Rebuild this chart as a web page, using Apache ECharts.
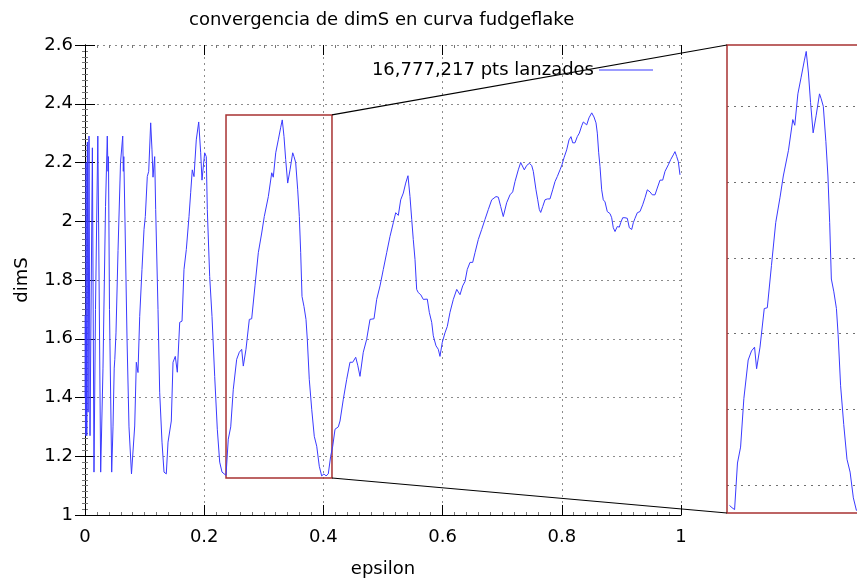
<!DOCTYPE html>
<html>
<head>
<meta charset="utf-8">
<script src="https://cdn.jsdelivr.net/npm/echarts@6/dist/echarts.min.js"></script>
<style>html,body{margin:0;padding:0;background:#fff}#c{width:857px;height:583px}</style>
</head>
<body>
<div id="c"></div>
<script>
// ---- data ----
const epsilon = [
0.0002,0.0005,0.0008,0.0011,0.0014,0.0018,0.0022,0.0026,0.0030,0.0040,0.0052,0.0067,0.0084,0.0124,0.0151,0.0176,0.0215,0.0228,0.0263,0.0302,
0.0344,0.0374,0.0386,0.0394,0.0411,0.0448,0.0470,0.0490,0.0500,0.0520,0.0554,0.0596,0.0633,0.0643,0.0651,0.0671,0.0705,0.0738,0.0780,0.0834,
0.0861,0.0889,0.0918,0.0956,0.0990,0.1012,0.1045,0.1069,0.1102,0.1124,0.1141,0.1169,0.1186,0.1225,0.1253,0.1292,0.1326,0.1364,0.1393,0.1448,
0.1477,0.1515,0.1549,0.1589,0.1628,0.1661,0.1700,0.1745,0.1773,0.1800,0.1829,0.1867,0.1908,0.1941,0.1963,0.2008,0.2035,0.2052,0.2092,0.2131,
0.2176,0.2220,0.2260,0.2299,0.2332,0.2366,0.2404,0.2445,0.2488,0.2545,0.2589,0.2629,0.2656,0.2701,0.2757,0.2797,0.2852,0.2908,0.2965,0.3008,
0.3032,0.3076,0.3133,0.3159,0.3200,0.3243,0.3284,0.3310,0.3339,0.3367,0.3401,0.3440,0.3485,0.3507,0.3535,0.3569,0.3596,0.3619,0.3641,0.3674,
0.3708,0.3730,0.3763,0.3804,0.3847,0.3888,0.3931,0.3971,0.4010,0.4044,0.4082,0.4122,0.4156,0.4195,0.4250,0.4279,0.4334,0.4391,0.4446,0.4492,
0.4542,0.4576,0.4614,0.4669,0.4726,0.4782,0.4849,0.4894,0.4950,0.5005,0.5062,0.5117,0.5173,0.5213,0.5257,0.5297,0.5341,0.5381,0.5419,0.5453,
0.5482,0.5508,0.5537,0.5565,0.5592,0.5633,0.5676,0.5705,0.5743,0.5777,0.5817,0.5844,0.5889,0.5928,0.5956,0.5995,0.6040,0.6079,0.6124,0.6180,
0.6237,0.6292,0.6337,0.6376,0.6414,0.6460,0.6505,0.6544,0.6599,0.6656,0.6711,0.6767,0.6824,0.6851,0.6896,0.6935,0.6975,0.7018,0.7075,0.7131,
0.7176,0.7215,0.7270,0.7310,0.7337,0.7371,0.7411,0.7455,0.7495,0.7522,0.7567,0.7596,0.7623,0.7646,0.7680,0.7718,0.7757,0.7802,0.7847,0.7886,
0.7924,0.7970,0.8003,0.8037,0.8082,0.8121,0.8154,0.8183,0.8221,0.8260,0.8294,0.8334,0.8361,0.8389,0.8418,0.8456,0.8502,0.8540,0.8574,0.8596,
0.8619,0.8641,0.8669,0.8696,0.8725,0.8763,0.8809,0.8837,0.8864,0.8893,0.8931,0.8965,0.8988,0.9022,0.9060,0.9099,0.9133,0.9173,0.9200,0.9228,
0.9267,0.9312,0.9357,0.9396,0.9435,0.9480,0.9518,0.9564,0.9602,0.9648,0.9693,0.9732,0.9787,0.9827,0.9871,0.9899,0.9928,0.9955,0.9983
];
const dimS = [
1.40,1.68,1.30,1.66,1.27,2.20,1.29,1.64,1.27,2.27,1.35,2.29,1.27,2.25,1.146,1.70,2.29,2.00,1.146,1.50,
2.05,2.29,2.17,2.22,1.70,1.146,1.30,1.50,1.53,1.62,1.90,2.20,2.29,2.17,2.22,2.00,1.60,1.30,1.14,1.303,
1.52,1.485,1.676,1.836,1.972,2.016,2.152,2.17,2.335,2.243,2.15,2.22,2.04,1.70,1.418,1.248,1.146,1.14,1.248,1.32,
1.52,1.54,1.486,1.656,1.66,1.836,1.904,2.016,2.097,2.175,2.152,2.277,2.338,2.233,2.14,2.233,2.22,2.04,1.812,1.676,
1.472,1.292,1.18,1.146,1.14,1.135,1.258,1.30,1.428,1.53,1.554,1.564,1.507,1.564,1.666,1.668,1.78,1.893,1.96,2.016,
2.02,2.084,2.165,2.15,2.233,2.277,2.32,2.345,2.288,2.21,2.13,2.175,2.233,2.22,2.20,2.107,2.016,1.893,1.744,1.71,
1.666,1.598,1.462,1.36,1.268,1.234,1.166,1.133,1.14,1.133,1.14,1.20,1.234,1.292,1.30,1.32,1.394,1.462,1.52,1.52,
1.537,1.51,1.472,1.554,1.598,1.666,1.668,1.734,1.78,1.836,1.893,1.948,1.995,2.029,2.02,2.073,2.096,2.13,2.155,2.084,
2.006,1.938,1.87,1.768,1.757,1.75,1.734,1.734,1.735,1.69,1.656,1.61,1.576,1.564,1.54,1.588,1.62,1.642,1.69,1.734,
1.768,1.75,1.78,1.795,1.836,1.86,1.86,1.893,1.938,1.972,2.006,2.04,2.073,2.07,2.084,2.082,2.05,2.016,2.063,2.09,
2.10,2.135,2.175,2.20,2.20,2.175,2.19,2.197,2.19,2.17,2.107,2.073,2.04,2.03,2.05,2.073,2.076,2.076,2.107,2.135,
2.152,2.175,2.192,2.216,2.243,2.277,2.288,2.267,2.267,2.288,2.30,2.325,2.338,2.335,2.328,2.352,2.369,2.355,2.335,2.30,
2.233,2.186,2.107,2.073,2.066,2.033,2.026,2.012,1.978,1.965,1.982,1.98,1.995,2.012,2.012,2.01,1.978,1.972,1.995,2.01,
2.029,2.033,2.056,2.08,2.107,2.10,2.09,2.09,2.113,2.14,2.14,2.17,2.192,2.21,2.226,2.237,2.22,2.203,2.158
];
const xRange = [0, 1], xStep = 0.2;
const yRange = [1, 2.6], yStep = 0.2;
const zoomBoxX = [0.2366, 0.4144];     // red rectangle on the main plot
const zoomBoxY = [1.126, 2.362];
const insetX = [0.2266, 0.3979];        // x range of the magnified view (visible part)
const insetData = [0.2299, 0.4044];     // part of the curve drawn in the inset
const insetGridY = [1.2, 1.4, 1.6, 1.8, 2.0, 2.2];
const insetGridX = [0.395];
const seriesName = '16,777,217 pts lanzados';
const titleText = 'convergencia de dimS en curva fudgeflake';

// ---- chart ----
const FONT = 'DejaVu Sans';
const BLUE = '#3a3aff';
const RED = '#a83232';
const mainPts = epsilon.map((x, i) => [x, dimS[i]]);
const insetPts = mainPts.filter(p => p[0] >= insetData[0] && p[0] <= insetData[1]);

const chart = echarts.init(document.getElementById('c'), null, {renderer: 'canvas'});
const gridLine = {show: true, lineStyle: {color: '#8c8c8c', width: 1, type: [2, 4]}};
const tick = {show: true, inside: true, length: 10, lineStyle: {color: '#000'}};
const minor = {show: true, splitNumber: 10, length: 3, lineStyle: {color: '#777'}};
const lbl = {color: '#000', fontSize: 18, fontFamily: FONT};
const solid = {show: true, lineStyle: {color: '#000', width: 1}};

chart.setOption({
  animation: false,
  backgroundColor: '#fff',
  title: {text: titleText, left: 184, top: 6,
          textStyle: {fontSize: 18, fontWeight: 'normal', fontFamily: FONT, color: '#000'}},
  legend: {data: [seriesName], right: 199, top: 56, align: 'right', icon: 'rect',
           itemWidth: 54, itemHeight: 1, textStyle: {fontSize: 18, fontFamily: FONT, color: '#000'}},
  grid: [
    {left: 85, right: 176, top: 45, bottom: 67, show: false},
    {left: 727, right: 0, top: 45, bottom: 70, show: false}
  ],
  xAxis: [
    {type: 'value', gridIndex: 0, min: xRange[0], max: xRange[1], interval: xStep,
     name: 'epsilon', nameLocation: 'middle', nameGap: 45, nameTextStyle: lbl,
     axisLine: solid, axisTick: tick, minorTick: minor,
     axisLabel: Object.assign({margin: 13}, lbl), splitLine: gridLine},
    {type: 'value', gridIndex: 0, position: 'top', min: xRange[0], max: xRange[1], interval: xStep,
     axisLine: {show: false}, axisTick: tick, minorTick: minor, axisLabel: {show: false}, splitLine: {show: false}},
    {type: 'value', gridIndex: 1, min: insetX[0], max: insetX[1],
     axisLine: {show: false}, axisTick: {show: false}, axisLabel: {show: false}, splitLine: {show: false}}
  ],
  yAxis: [
    {type: 'value', gridIndex: 0, min: yRange[0], max: yRange[1], interval: yStep,
     name: 'dimS', nameLocation: 'middle', nameGap: 54, nameTextStyle: lbl,
     axisLine: solid, axisTick: tick, minorTick: minor,
     axisLabel: Object.assign({margin: 12}, lbl), splitLine: gridLine},
    {type: 'value', gridIndex: 0, position: 'right', min: yRange[0], max: yRange[1], interval: yStep,
     axisLine: solid, axisTick: tick, minorTick: minor, axisLabel: {show: false}, splitLine: {show: false}},
    {type: 'value', gridIndex: 1, min: zoomBoxY[0], max: zoomBoxY[1],
     axisLine: {show: false}, axisTick: {show: false}, axisLabel: {show: false}, splitLine: {show: false}}
  ],
  series: [
    {name: seriesName, type: 'line', xAxisIndex: 0, yAxisIndex: 0, data: mainPts,
     showSymbol: false, symbol: 'none', lineStyle: {color: BLUE, width: 1}, itemStyle: {color: BLUE},
     markArea: {silent: true,
       itemStyle: {color: 'rgba(0,0,0,0)', borderColor: RED, borderWidth: 1.5},
       data: [[{coord: [zoomBoxX[0], zoomBoxY[1]]}, {coord: [zoomBoxX[1], zoomBoxY[0]]}]]}},
    {name: 'inset', type: 'line', xAxisIndex: 2, yAxisIndex: 2, data: insetPts,
     showSymbol: false, symbol: 'none', lineStyle: {color: BLUE, width: 1}, itemStyle: {color: BLUE},
     markLine: {silent: true, symbol: 'none', label: {show: false},
       lineStyle: {color: '#707070', width: 1, type: [2, 5]},
       data: insetGridY.map(v => ({yAxis: v})).concat(insetGridX.map(v => ({xAxis: v})))}}
  ]
});

// connector lines from the red box to the inset, and the inset frame
const tr = chart.convertToPixel({xAxisIndex: 0, yAxisIndex: 0}, [zoomBoxX[1], zoomBoxY[1]]);
const br = chart.convertToPixel({xAxisIndex: 0, yAxisIndex: 0}, [zoomBoxX[1], zoomBoxY[0]]);
const itl = chart.convertToPixel({xAxisIndex: 2, yAxisIndex: 2}, [insetX[0], zoomBoxY[1]]);
const ibl = chart.convertToPixel({xAxisIndex: 2, yAxisIndex: 2}, [insetX[0], zoomBoxY[0]]);
chart.setOption({graphic: [
  {type: 'rect', z: 90, shape: {x: itl[0], y: itl[1], width: 200, height: ibl[1] - itl[1]},
   style: {fill: 'none', stroke: RED, lineWidth: 1.5}},
  {type: 'line', z: 100, shape: {x1: tr[0], y1: tr[1], x2: itl[0], y2: itl[1]}, style: {stroke: '#000', lineWidth: 1.2}},
  {type: 'line', z: 100, shape: {x1: br[0], y1: br[1], x2: ibl[0], y2: ibl[1]}, style: {stroke: '#000', lineWidth: 1.2}}
]});
</script>
</body>
</html>
